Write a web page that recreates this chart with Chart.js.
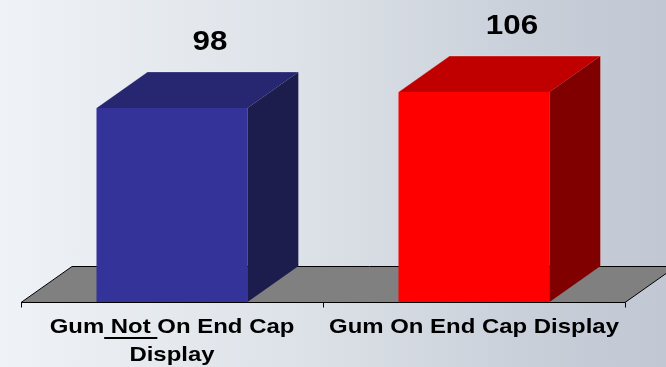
<!DOCTYPE html>
<html>
<head>
<meta charset="utf-8">
<script src="https://cdn.jsdelivr.net/npm/chart.js@4/dist/chart.umd.min.js"></script>
<style>
  html, body { margin: 0; padding: 0; }
  body {
    width: 666px; height: 367px; overflow: hidden;
    background: linear-gradient(90deg, #eff3f7 0%, #dde2e8 45%, #c9cfd9 80%, #c1c7d3 100%);
  }
  canvas { display: block; }
</style>
</head>
<body>
<canvas id="chart" width="666" height="367"></canvas>
<script>
// categories (already wrapped the way the slide shows them)
const categories = [['Gum Not On End Cap', 'Display'], ['Gum On End Cap Display']];
const underlined = ['Not', null];
const values = [98, 106];

// face colours: front, top, side
const frontColors = ['#333399', '#ff0000'];
const topColors   = ['#262671', '#c00000'];
const sideColors  = ['#1c1c4d', '#800000'];

const DX = 51, DY = 36;   // 3d depth offset

// floor slab + ticks, drawn under the bars
const floorPlugin = {
  id: 'floor',
  beforeDatasetsDraw(chart) {
    const { ctx, chartArea: a } = chart;
    const y = Math.round(a.bottom) + 0.5;
    ctx.save();
    ctx.beginPath();
    ctx.moveTo(a.left, y);
    ctx.lineTo(a.right, y);
    ctx.lineTo(a.right + DX, y - DY);
    ctx.lineTo(a.left + DX, y - DY);
    ctx.closePath();
    ctx.fillStyle = '#808080';
    ctx.fill();
    ctx.strokeStyle = '#000';
    ctx.lineWidth = 1;
    ctx.stroke();
    ctx.restore();
  },
  afterDatasetsDraw(chart) {
    const { ctx, chartArea: a } = chart;
    const xs = chart.scales.x;
    const y = Math.round(a.bottom) + 0.5;
    const ticks = [a.left, (xs.getPixelForValue(0) + xs.getPixelForValue(1)) / 2, a.right];
    ctx.save();
    ctx.strokeStyle = '#000';
    ctx.lineWidth = 1;
    ctx.beginPath();
    ctx.moveTo(a.left, y);
    ctx.lineTo(a.right, y);
    ticks.forEach(t => {
      const tx = Math.round(t) + 0.5;
      ctx.moveTo(tx, y);
      ctx.lineTo(tx, y + 5);
    });
    ctx.stroke();
    ctx.restore();
  }
};

// top and side faces of each bar, value labels, category labels
const boxPlugin = {
  id: 'box3d',
  afterDatasetsDraw(chart) {
    const ctx = chart.ctx;
    const meta = chart.getDatasetMeta(0);
    meta.data.forEach((bar, i) => {
      const l = bar.x - bar.width / 2, r = bar.x + bar.width / 2;
      const t = bar.y, b = bar.base;
      ctx.save();
      // top
      ctx.beginPath();
      ctx.moveTo(l, t);
      ctx.lineTo(l + DX, t - DY);
      ctx.lineTo(r + DX, t - DY);
      ctx.lineTo(r, t);
      ctx.closePath();
      ctx.fillStyle = topColors[i];
      ctx.fill();
      // side
      ctx.beginPath();
      ctx.moveTo(r, t);
      ctx.lineTo(r + DX, t - DY);
      ctx.lineTo(r + DX, b - DY);
      ctx.lineTo(r, b);
      ctx.closePath();
      ctx.fillStyle = sideColors[i];
      ctx.fill();
      // faint light edge on back corners
      ctx.beginPath();
      ctx.moveTo(l, t);
      ctx.lineTo(l + DX, t - DY);
      ctx.lineTo(r + DX, t - DY);
      ctx.lineTo(r + DX, b - DY);
      ctx.strokeStyle = 'rgba(255,255,255,0.25)';
      ctx.lineWidth = 1;
      ctx.stroke();

      // value label
      ctx.fillStyle = '#000';
      ctx.font = 'bold 28px "Liberation Sans", Arial, sans-serif';
      ctx.textAlign = 'center';
      ctx.textBaseline = 'alphabetic';
      ctx.translate(bar.x + 38, t - 58);
      ctx.scale(1.12, 1);
      ctx.fillText(String(values[i]), 0, 0);
      ctx.restore();

      // category label
      const SX = 1.14;
      ctx.save();
      ctx.font = 'bold 21px "Liberation Sans", Arial, sans-serif';
      ctx.fillStyle = '#000';
      ctx.textBaseline = 'alphabetic';
      categories[i].forEach((line, k) => {
        const base = b + 31 + k * 28;
        const w = ctx.measureText(line).width * SX;
        const x0 = bar.x - w / 2;
        ctx.save();
        ctx.translate(x0, base);
        ctx.scale(SX, 1);
        ctx.textAlign = 'left';
        ctx.fillText(line, 0, 0);
        ctx.restore();
        const word = underlined[i];
        if (word && line.indexOf(word) >= 0) {
          const idx = line.indexOf(word);
          const u0 = x0 + ctx.measureText(line.slice(0, idx).trimEnd()).width * SX;
          const u1 = x0 + ctx.measureText(line.slice(0, idx + word.length) + ' ').width * SX;
          ctx.fillRect(u0, base + 4, u1 - u0, 2);
        }
      });
      ctx.restore();
    });
  }
};

new Chart(document.getElementById('chart'), {
  type: 'bar',
  data: {
    labels: categories,
    datasets: [{
      data: values,
      backgroundColor: frontColors,
      borderWidth: 0,
      categoryPercentage: 1,
      barPercentage: 0.5
    }]
  },
  options: {
    responsive: false,
    animation: false,
    devicePixelRatio: 1,
    layout: { padding: { left: 21, right: 41, top: 5, bottom: 65 } },
    scales: {
      x: { display: false },
      y: { display: false, min: 0, max: 150 }
    },
    plugins: {
      legend: { display: false },
      tooltip: { enabled: false }
    }
  },
  plugins: [floorPlugin, boxPlugin]
});
</script>
</body>
</html>
